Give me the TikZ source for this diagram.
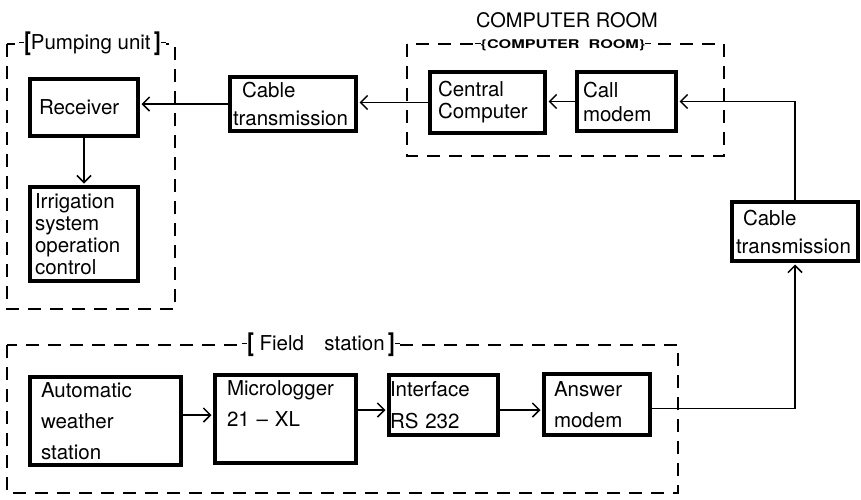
\documentclass[tikz,border=0pt]{standalone}
\usepackage{fontspec}
\setmainfont{TeX Gyre Heros}
\usepackage{graphicx}
\usetikzlibrary{arrows.meta,calc}
\newcommand{\lbr}{\rule[0.3em]{5pt}{1.2pt}\raisebox{-0.08em}{\scalebox{1}[1.25]{\bfseries[}}}
\newcommand{\rbr}{\raisebox{-0.08em}{\scalebox{1}[1.25]{\bfseries]}}\rule[0.3em]{5pt}{1.2pt}}
\begin{document}
\begin{tikzpicture}[x=1pt,y=-1pt,
 box/.style={draw, line width=4pt, inner ysep=0pt, align=left, anchor=center},
 lsp/.style={font=\fontsize{20.5}{#1}\selectfont},
 dbox/.style={draw, line width=1.2pt, dash pattern=on 13pt off 9pt},
 arr/.style={line width=1.5pt, shorten >=1.5pt, -{Straight Barb[length=7pt,width=14pt,line width=1.5pt]}},
 lbl/.style={fill=white, inner sep=0pt, font=\fontsize{20.5}{22}\selectfont},
]
\useasboundingbox (0,0) rectangle (861,499);

% group frames
\draw[dbox] (7,44) rectangle (175,309);
\draw[dbox] (407,44) rectangle (724,156);
\draw[dbox] (7,345) rectangle (678,493);

\node[lbl] (pumpl) at (92.5,44) {\lbr Pumping unit\,\rbr};
\node[lbl] (fieldl) at (321,345) {\lbr\ Field\quad station\,\rbr};
\node[fill=white, inner sep=0pt] (crl) at (563,45) {\rule[0.45em]{6pt}{1.2pt}\scalebox{1.35}[1]{\fontsize{12}{12}\selectfont\bfseries \{COMPUTER\ \ ROOM\}}\rule[0.45em]{6pt}{1.2pt}};
\node[inner sep=0pt, font=\fontsize{20}{22}\selectfont] (title) at (567,20) {COMPUTER ROOM};

% boxes
\node[box, lsp=22, minimum height=57pt, inner xsep=9pt, text width=90pt] (recv) at (84,107.5) {Receiver};
\node[box, lsp=22, minimum height=94pt, inner xsep=5pt, text width=98pt] (irr) at (84,234) {Irrigation\\system\\operation\\control};
\node[box, lsp=28, minimum height=54pt, inner xsep=3pt, text width=120pt] (cab1) at (293,104) {\hspace*{9pt}Cable\\transmission};
\node[box, lsp=22, minimum height=61pt, inner xsep=8pt, text width=99pt] (cc) at (487.5,102.5) {Central\\Computer};
\node[box, lsp=24, minimum height=59pt, inner xsep=6pt, text width=87pt] (call) at (626.5,101.5) {Call\\modem};
\node[box, lsp=28, minimum height=59pt, inner xsep=4pt, text width=118pt] (cab2) at (795,231.5) {\hspace*{7pt}Cable\\transmission};
\node[box, lsp=31, minimum height=88pt, inner xsep=11pt, text width=129pt] (aws) at (105.5,421) {Automatic\\weather\\station};
\node[box, lsp=31, minimum height=88pt, inner xsep=12pt, text width=117pt] (micro) at (285.5,419) {Micrologger\\21 -- XL\\\mbox{}};
\node[box, lsp=32, minimum height=60pt, inner xsep=1pt, text width=107pt] (intf) at (443.5,405) {Interface\\RS 232};
\node[box, lsp=31, minimum height=61pt, inner xsep=10pt, text width=86pt] (ans) at (597,404.5) {Answer\\modem};

% connectors
\draw[arr] (cab1.west) -- (cab1.west -| recv.east);
\draw[arr] (cc.west) -- (cc.west -| cab1.east);
\draw[arr] (call.west) -- (call.west -| cc.east);
\draw[arr] (cab2.north) |- (call.east);
\draw[arr] ([yshift=-4pt]ans.east) -| (cab2.south);
\draw[arr] (recv.south) -- (recv.south |- irr.north);
\draw[arr] ([yshift=6pt]aws.east) -- ([yshift=6pt]aws.east -| micro.west);
\draw[arr] ([yshift=-5pt]intf.west -| micro.east) -- ([yshift=-5pt]intf.west);
\draw[arr] ([yshift=-5pt]intf.east) -- ([yshift=-5pt]intf.east -| ans.west);
\end{tikzpicture}
\end{document}
